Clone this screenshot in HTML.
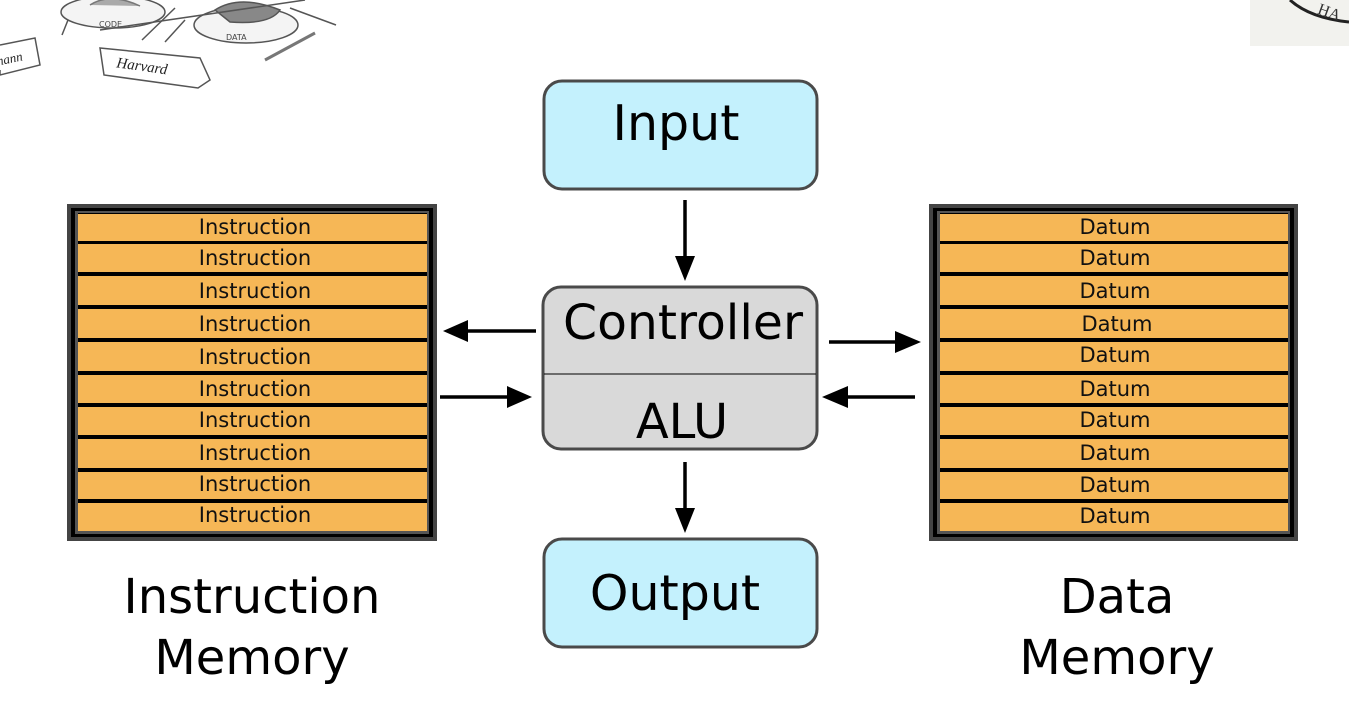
<!DOCTYPE html>
<html><head><meta charset="utf-8"><style>
html,body{margin:0;padding:0;background:#fff;}
svg{display:block;font-family:"DejaVu Sans","Liberation Sans",sans-serif;}
</style></head><body>
<svg width="1349" height="716" viewBox="0 0 1349 716" xmlns="http://www.w3.org/2000/svg">
<!-- cartoon top-left -->
<g fill="none" stroke="#555" stroke-width="1.5">
<ellipse cx="113" cy="12" rx="52" ry="16" fill="#f4f4f4"/>
<path d="M90 5 Q110 -8 140 6" fill="#aaa" stroke="#777"/>
<ellipse cx="246" cy="25" rx="52" ry="18" fill="#f4f4f4"/>
<path d="M215 10 Q240 -6 280 10 Q270 25 230 22 Z" fill="#888"/>
<line x1="290" y1="8" x2="336" y2="25"/>
<path d="M100 30 L305 0"/>
<path d="M62 35 L68 20" />
<path d="M142 40 L175 8"/>
<path d="M165 42 L185 20"/>
<path d="M265 60 L315 33" stroke="#777" stroke-width="3"/>
<path d="M0 70 L0 75 L40 65 L35 38 L0 45"/>
<path d="M100 48 L200 58 L210 80 L198 88 L104 75 Z"/>
</g>
<text x="-6" y="63" font-family="Liberation Serif,serif" font-style="italic" font-size="13" fill="#222" transform="rotate(-12 10 60)">mann</text>
<text x="116" y="72" font-family="Liberation Serif,serif" font-style="italic" font-size="15" fill="#222" transform="rotate(8 150 70)">Harvard</text>
<text x="99" y="27" font-size="8" fill="#444">CODE</text>
<text x="226" y="40" font-size="8" fill="#444">DATA</text>
<!-- top right -->
<rect x="1250" y="0" width="99" height="46" fill="#f2f2ee"/>
<path d="M1290 0 Q1310 18 1349 22" fill="none" stroke="#222" stroke-width="3"/>
<text x="1318" y="14" font-family="Liberation Serif,serif" font-size="16" fill="#333" transform="rotate(20 1320 10)">HA</text>

<!-- Instruction memory -->
<g>
<rect x="67" y="204" width="370" height="337" fill="#444"/>
<rect x="71" y="208" width="362" height="329" fill="#000"/>
<rect x="75" y="211" width="354" height="323" fill="#555"/>
<rect x="78" y="213" width="349" height="318" fill="#000"/>
<g fill="#f6b756">
<rect x="78" y="214" width="349" height="27"/><rect x="78" y="244" width="349" height="28"/><rect x="78" y="276" width="349" height="29"/><rect x="78" y="309" width="349" height="29"/><rect x="78" y="342" width="349" height="29"/><rect x="78" y="375" width="349" height="28"/><rect x="78" y="407" width="349" height="28"/><rect x="78" y="439" width="349" height="29"/><rect x="78" y="472" width="349" height="27"/><rect x="78" y="503" width="349" height="28"/>
</g>
<g font-size="21" text-anchor="middle" fill="#111">
<text x="255" y="234">Instruction</text><text x="255" y="265">Instruction</text><text x="255" y="298">Instruction</text><text x="255" y="331">Instruction</text><text x="255" y="364">Instruction</text><text x="255" y="396">Instruction</text><text x="255" y="427">Instruction</text><text x="255" y="460">Instruction</text><text x="255" y="491">Instruction</text><text x="255" y="522">Instruction</text>
</g>
</g>
<!-- Data memory -->
<g>
<rect x="929" y="204" width="369" height="337" fill="#444"/>
<rect x="933" y="208" width="361" height="329" fill="#000"/>
<rect x="937" y="211" width="353" height="323" fill="#555"/>
<rect x="940" y="213" width="348" height="318" fill="#000"/>
<g fill="#f6b756">
<rect x="940" y="214" width="348" height="27"/><rect x="940" y="244" width="348" height="28"/><rect x="940" y="276" width="348" height="29"/><rect x="940" y="309" width="348" height="29"/><rect x="940" y="342" width="348" height="29"/><rect x="940" y="375" width="348" height="28"/><rect x="940" y="407" width="348" height="28"/><rect x="940" y="439" width="348" height="29"/><rect x="940" y="472" width="348" height="27"/><rect x="940" y="503" width="348" height="28"/>
</g>
<g font-size="21" text-anchor="middle" fill="#111">
<text x="1115" y="234">Datum</text><text x="1115" y="265">Datum</text><text x="1115" y="298">Datum</text><text x="1117" y="331">Datum</text><text x="1115" y="362">Datum</text><text x="1115" y="396">Datum</text><text x="1115" y="427">Datum</text><text x="1115" y="460">Datum</text><text x="1115" y="492">Datum</text><text x="1115" y="523">Datum</text>
</g>
</g>

<!-- center boxes -->
<rect x="544" y="81" width="273" height="108" rx="18" fill="#c4f1fd" stroke="#4a4a4a" stroke-width="3"/>
<text x="676" y="140" font-size="49" text-anchor="middle" fill="#000">Input</text>
<rect x="543" y="287" width="274" height="162" rx="18" fill="#d9d9d9" stroke="#4a4a4a" stroke-width="3"/>
<line x1="544" y1="374" x2="816" y2="374" stroke="#000" stroke-width="1"/>
<text x="683" y="339" font-size="48" text-anchor="middle" fill="#000" textLength="240" lengthAdjust="spacingAndGlyphs">Controller</text>
<text x="682" y="438" font-size="48" text-anchor="middle" fill="#000">ALU</text>
<rect x="544" y="539" width="273" height="108" rx="18" fill="#c4f1fd" stroke="#4a4a4a" stroke-width="3"/>
<text x="675" y="610" font-size="49" text-anchor="middle" fill="#000">Output</text>

<!-- arrows -->
<g stroke="#000" stroke-width="3.5">
<line x1="685" y1="200" x2="685" y2="262"/>
<line x1="536" y1="331" x2="462" y2="331"/>
<line x1="440" y1="397" x2="512" y2="397"/>
<line x1="829" y1="342" x2="900" y2="342"/>
<line x1="915" y1="397" x2="842" y2="397"/>
<line x1="685" y1="462" x2="685" y2="514"/>
</g>
<g fill="#000">
<polygon points="675,256 695,256 685,281"/>
<polygon points="468,320 468,342 443,331"/>
<polygon points="507,386 507,408 532,397"/>
<polygon points="895,331 895,353 921,342"/>
<polygon points="848,386 848,408 822,397"/>
<polygon points="675,508 695,508 685,533"/>
</g>

<!-- labels -->
<g font-size="48" text-anchor="middle" fill="#000">
<text x="252" y="613">Instruction</text>
<text x="252" y="674">Memory</text>
<text x="1117" y="613">Data</text>
<text x="1117" y="674">Memory</text>
</g>
</svg>
</body></html>
